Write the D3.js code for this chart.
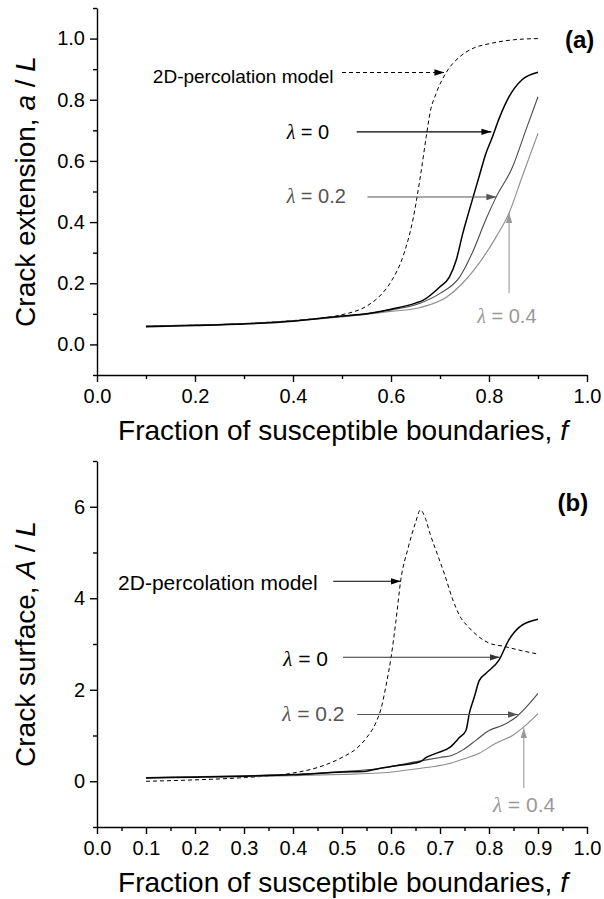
<!DOCTYPE html>
<html lang="en">
<head>
<meta charset="UTF-8">
<script src="https://d3js.org/d3.v7.min.js"></script>
<title>Crack extension and crack surface</title>
<style>
  body { margin: 0; background: #fff; }
  text { font-family: "Liberation Sans", Arial, sans-serif; }
</style>
</head>
<body>
<script>
// ---- data ----
// panel (a): crack extension a/L
const percA_f = [0.1, 0.2, 0.3, 0.4, 0.45, 0.5, 0.55, 0.575, 0.6, 0.625, 0.645, 0.66, 0.672, 0.68, 0.692, 0.713, 0.74, 0.77, 0.8, 0.85, 0.9];
const percA_v = [0.06, 0.063, 0.068, 0.078, 0.085, 0.097, 0.125, 0.155, 0.205, 0.29, 0.41, 0.55, 0.68, 0.76, 0.82, 0.89, 0.94, 0.97, 0.983, 0.996, 1.0];
const lam0A_f = [0.1, 0.2, 0.3, 0.4, 0.5, 0.55, 0.6, 0.65, 0.665, 0.699, 0.719, 0.733, 0.746, 0.76, 0.78, 0.794, 0.805, 0.821, 0.841, 0.868, 0.9];
const lam0A_v = [0.058, 0.062, 0.067, 0.076, 0.093, 0.1, 0.115, 0.135, 0.144, 0.187, 0.22, 0.275, 0.36, 0.44, 0.55, 0.626, 0.67, 0.74, 0.81, 0.866, 0.89];
const lam2A_f = [0.1, 0.2, 0.3, 0.4, 0.5, 0.55, 0.6, 0.658, 0.7, 0.74, 0.766, 0.794, 0.814, 0.848, 0.875, 0.9];
const lam2A_v = [0.06, 0.063, 0.068, 0.077, 0.092, 0.1, 0.113, 0.134, 0.167, 0.22, 0.30, 0.41, 0.48, 0.58, 0.70, 0.81];
const lam4A_f = [0.1, 0.2, 0.3, 0.4, 0.5, 0.55, 0.6, 0.658, 0.713, 0.746, 0.78, 0.814, 0.841, 0.868, 0.9];
const lam4A_v = [0.06, 0.063, 0.068, 0.077, 0.09, 0.098, 0.108, 0.12, 0.154, 0.2, 0.266, 0.35, 0.43, 0.55, 0.69];

// panel (b): crack surface A/L
const percB_f = [0.1, 0.2, 0.3, 0.4, 0.45, 0.5, 0.53, 0.55, 0.57, 0.58, 0.59, 0.6, 0.61, 0.62, 0.635, 0.65, 0.66, 0.67, 0.68, 0.695, 0.71, 0.725, 0.74, 0.76, 0.78, 0.8, 0.83, 0.86, 0.9];
const percB_v = [0.0, 0.03, 0.08, 0.18, 0.3, 0.52, 0.72, 0.95, 1.3, 1.6, 2.1, 2.7, 3.5, 4.4, 5.1, 5.65, 5.93, 5.75, 5.4, 4.95, 4.5, 4.0, 3.62, 3.35, 3.15, 3.02, 2.95, 2.87, 2.78];
const lam0B_f = [0.1, 0.2, 0.3, 0.4, 0.5, 0.55, 0.576, 0.617, 0.658, 0.672, 0.692, 0.72, 0.74, 0.753, 0.76, 0.77, 0.78, 0.794, 0.82, 0.84, 0.862, 0.9];
const lam0B_v = [0.07, 0.09, 0.11, 0.14, 0.2, 0.22, 0.28, 0.35, 0.42, 0.52, 0.61, 0.74, 0.96, 1.11, 1.49, 1.84, 2.2, 2.36, 2.64, 3.08, 3.37, 3.54];
const lam2B_f = [0.1, 0.2, 0.3, 0.4, 0.5, 0.576, 0.658, 0.7, 0.725, 0.746, 0.774, 0.8, 0.827, 0.855, 0.876, 0.9];
const lam2B_v = [0.08, 0.1, 0.12, 0.15, 0.21, 0.28, 0.44, 0.52, 0.57, 0.68, 0.9, 1.11, 1.22, 1.4, 1.62, 1.92];
const lam4B_f = [0.1, 0.2, 0.3, 0.4, 0.5, 0.576, 0.658, 0.713, 0.746, 0.78, 0.814, 0.848, 0.868, 0.9];
const lam4B_v = [0.07, 0.09, 0.1, 0.12, 0.15, 0.18, 0.28, 0.37, 0.48, 0.61, 0.83, 1.0, 1.16, 1.48];

// tick values
const xTicksA = [0, 0.2, 0.4, 0.6, 0.8, 1.0];
const xMinorA = [0.1, 0.3, 0.5, 0.7, 0.9];
const yTicksA = [0, 0.2, 0.4, 0.6, 0.8, 1.0];
const yMinorA = [-0.1, 0.1, 0.3, 0.5, 0.7, 0.9, 1.1];
const xTicksB = [0, 0.1, 0.2, 0.3, 0.4, 0.5, 0.6, 0.7, 0.8, 0.9, 1.0];
const xMinorB = [0.05, 0.15, 0.25, 0.35, 0.45, 0.55, 0.65, 0.75, 0.85, 0.95];
const yTicksB = [0, 2, 4, 6];
const yMinorB = [-1, 1, 3, 5, 7];

const W = 604, H = 899;
const svg = d3.select("body").append("svg")
    .attr("width", W)
    .attr("height", H);

const colors = { lam0: "#000", lam2: "#4a4a4a", lam4: "#8c8c8c", lab2: "#555", lab4: "#999" };

// arrowhead markers, one per colour
const defs = svg.append("defs");
[["k", "#000"], ["d", "#333"], ["g", "#555"], ["l", "#999"]].forEach(function(m) {
    defs.append("marker")
        .attr("id", "arr-" + m[0])
        .attr("markerUnits", "userSpaceOnUse")
        .attr("markerWidth", 11).attr("markerHeight", 8)
        .attr("refX", 10).attr("refY", 4)
        .attr("orient", "auto")
        .append("path")
        .attr("d", "M0,0.8 L10,4 L0,7.2 Z")
        .attr("fill", m[1]);
});

function panel(cfg) {
    const x = d3.scaleLinear().domain([0, 1]).range([97, 587]);
    const y = d3.scaleLinear().domain(cfg.yDomain).range(cfg.yRange);
    const g = svg.append("g");
    const bottom = cfg.yRange[0];

    // x axis: major + minor ticks
    g.append("g")
        .attr("transform", "translate(0," + bottom + ")")
        .call(d3.axisBottom(x).tickValues(cfg.xTicks).tickSize(7).tickSizeOuter(0).tickPadding(7)
            .tickFormat(d3.format(".1f")));
    g.append("g")
        .attr("transform", "translate(0," + bottom + ")")
        .call(d3.axisBottom(x).tickValues(cfg.xMinor).tickSize(4).tickSizeOuter(0).tickFormat(""))
        .select(".domain").remove();

    // y axis
    g.append("g")
        .attr("transform", "translate(97,0)")
        .call(d3.axisLeft(y).tickValues(cfg.yTicks).tickSize(7).tickSizeOuter(0).tickPadding(5)
            .tickFormat(cfg.yFormat));
    g.append("g")
        .attr("transform", "translate(97,0)")
        .call(d3.axisLeft(y).tickValues(cfg.yMinor).tickSize(4).tickSizeOuter(0).tickFormat(""))
        .select(".domain").remove();

    g.selectAll(".domain, .tick line").attr("stroke", "#000").attr("stroke-width", 1.4);
    g.selectAll(".tick text")
        .attr("font-family", "'Liberation Sans', Arial, sans-serif")
        .attr("font-size", 20).attr("fill", "#000");

    // axis titles
    const xt = g.append("text")
        .attr("x", 343).attr("y", bottom + 65)
        .attr("text-anchor", "middle")
        .attr("font-size", 28);
    xt.append("tspan").text("Fraction of susceptible boundaries, ");
    xt.append("tspan").attr("font-style", "italic").text("f");

    const yMid = (cfg.yRange[0] + cfg.yRange[1]) / 2;
    const yt = g.append("text")
        .attr("transform", "translate(35," + yMid + ") rotate(-90)")
        .attr("text-anchor", "middle")
        .attr("font-size", 28);
    yt.append("tspan").text(cfg.yTitle + ", ");
    yt.append("tspan").attr("font-style", "italic").text(cfg.yVar);
    yt.append("tspan").text(" / ");
    yt.append("tspan").attr("font-style", "italic").text("L");

    // curves
    const line = d3.line()
        .x(d => x(d[0]))
        .y(d => y(d[1]))
        .curve(d3.curveMonotoneX);

    cfg.series.forEach(function(s) {
        g.append("path")
            .datum(d3.zip(s.f, s.v))
            .attr("d", line)
            .attr("fill", "none")
            .attr("stroke", s.color)
            .attr("stroke-width", s.width)
            .attr("stroke-dasharray", s.dash || null);
    });

    // annotations (positions in data units)
    cfg.notes.forEach(function(n) {
        const t = g.append("text")
            .attr("x", x(n.tx)).attr("y", y(n.ty))
            .attr("font-size", n.size)
            .attr("fill", n.color);
        if (n.lambda) {
            t.append("tspan")
                .attr("font-family", "'Liberation Serif', 'DejaVu Serif', serif")
                .attr("font-style", "italic")
                .text("\u03bb");
            t.append("tspan").text(" = " + n.lambda);
        } else {
            t.text(n.text);
        }
        g.append("line")
            .attr("x1", x(n.a[0])).attr("y1", y(n.a[1]))
            .attr("x2", x(n.a[2])).attr("y2", y(n.a[3]))
            .attr("stroke", n.arrowColor)
            .attr("stroke-width", 1.1)
            .attr("stroke-dasharray", n.dash || null)
            .attr("marker-end", "url(#arr-" + n.marker + ")");
    });

    g.append("text")
        .attr("x", x(cfg.tag[0])).attr("y", y(cfg.tag[1]))
        .attr("font-size", 24)
        .attr("font-weight", "bold")
        .text(cfg.tag[2]);
}

panel({
    yDomain: [-0.1, 1.1], yRange: [375, 8],
    xTicks: xTicksA, xMinor: xMinorA, yTicks: yTicksA, yMinor: yMinorA,
    yFormat: d3.format(".1f"),
    yTitle: "Crack extension", yVar: "a",
    series: [
        { f: percA_f, v: percA_v, color: "#000", width: 1, dash: "4,3" },
        { f: lam4A_f, v: lam4A_v, color: colors.lam4, width: 1.1 },
        { f: lam2A_f, v: lam2A_v, color: colors.lam2, width: 1.1 },
        { f: lam0A_f, v: lam0A_v, color: colors.lam0, width: 1.5 }
    ],
    notes: [
        { text: "2D-percolation model", tx: 0.114, ty: 0.856, size: 19, color: "#000",
          a: [0.50, 0.889, 0.709, 0.889], arrowColor: "#000", marker: "k", dash: "4,3" },
        { lambda: "0", tx: 0.387, ty: 0.672, size: 20, color: "#000",
          a: [0.53, 0.695, 0.805, 0.695], arrowColor: "#000", marker: "k" },
        { lambda: "0.2", tx: 0.387, ty: 0.462, size: 20, color: colors.lab2,
          a: [0.552, 0.482, 0.815, 0.482], arrowColor: "#555", marker: "g" },
        { lambda: "0.4", tx: 0.776, ty: 0.069, size: 20, color: colors.lab4,
          a: [0.841, 0.167, 0.841, 0.43], arrowColor: "#999", marker: "l" }
    ],
    tag: [0.955, 0.97, "(a)"]
});

panel({
    yDomain: [-1, 7], yRange: [827, 461],
    xTicks: xTicksB, xMinor: xMinorB, yTicks: yTicksB, yMinor: yMinorB,
    yFormat: d3.format("d"),
    yTitle: "Crack surface", yVar: "A",
    series: [
        { f: percB_f, v: percB_v, color: "#000", width: 1, dash: "4,3" },
        { f: lam4B_f, v: lam4B_v, color: colors.lam4, width: 1.1 },
        { f: lam2B_f, v: lam2B_v, color: colors.lam2, width: 1.1 },
        { f: lam0B_f, v: lam0B_v, color: colors.lam0, width: 1.5 }
    ],
    notes: [
        { text: "2D-percolation model", tx: 0.043, ty: 4.17, size: 21, color: "#000",
          a: [0.482, 4.37, 0.62, 4.37], arrowColor: "#000", marker: "k" },
        { lambda: "0", tx: 0.38, ty: 2.51, size: 21, color: "#000",
          a: [0.502, 2.71, 0.822, 2.71], arrowColor: "#333", marker: "d" },
        { lambda: "0.2", tx: 0.378, ty: 1.31, size: 21, color: colors.lab2,
          a: [0.531, 1.46, 0.859, 1.46], arrowColor: "#555", marker: "g" },
        { lambda: "0.4", tx: 0.808, ty: -0.68, size: 21, color: colors.lab4,
          a: [0.871, -0.15, 0.871, 1.16], arrowColor: "#999", marker: "l" }
    ],
    tag: [0.94, 5.9, "(b)"]
});
</script>
</body>
</html>
